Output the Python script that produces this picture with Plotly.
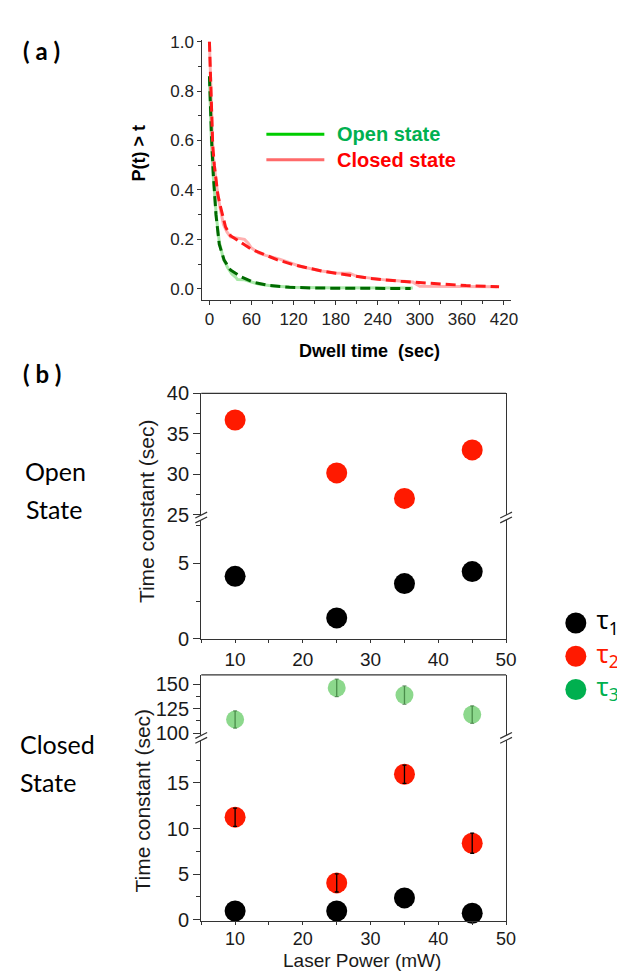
import plotly.graph_objects as go

W, H = 625, 973


def fx(px):
    return px / W


def fy(py):
    return 1 - py / H


# ---------------- Panel (a) data: survival curves ----------------
open_data_t = [0, 1, 2, 3, 5, 7, 10, 14, 20, 26, 32, 38, 40, 50, 56, 70, 90, 120, 160, 220, 290]
open_data_p = [0.85, 0.75, 0.66, 0.58, 0.47, 0.38, 0.29, 0.19, 0.12, 0.085, 0.06, 0.045, 0.037, 0.036, 0.03, 0.019, 0.011, 0.006, 0.004, 0.003, 0.003]
open_fit_t = [0, 1, 2, 3.3, 5.6, 9.3, 14, 21, 30, 44, 63, 86, 114, 150, 200, 287]
open_fit_p = [0.86, 0.76, 0.67, 0.59, 0.46, 0.30, 0.18, 0.116, 0.076, 0.05, 0.026, 0.013, 0.006, 0.003, 0.002, 0.001]

closed_data_t = [0, 2, 5, 10, 15, 20, 25, 30, 40, 50, 55, 60, 70, 80, 100, 130, 160, 180, 200, 210, 250, 290, 300, 350, 410]
closed_data_p = [1.0, 0.8, 0.55, 0.42, 0.33, 0.26, 0.23, 0.21, 0.205, 0.20, 0.185, 0.165, 0.145, 0.135, 0.12, 0.09, 0.072, 0.064, 0.063, 0.05, 0.036, 0.027, 0.01, 0.009, 0.008]
closed_fit_t = [0, 1, 2.3, 4.7, 7, 9.3, 12, 16, 20, 23, 30, 40, 49, 60, 72, 96, 120, 133, 160, 180, 226, 273, 320, 366, 413]
closed_fit_p = [1.0, 0.9, 0.8, 0.58, 0.50, 0.44, 0.38, 0.33, 0.28, 0.25, 0.215, 0.195, 0.18, 0.16, 0.145, 0.118, 0.097, 0.088, 0.072, 0.063, 0.043, 0.03, 0.02, 0.013, 0.008]

# ---------------- Panel (b) data: time constants ----------------
power = [10, 25, 35, 45]
open_tau1 = [4.14, 1.38, 3.66, 4.46]
open_tau2 = [36.7, 30.15, 27.0, 33.0]
closed_tau1 = [0.96, 0.96, 2.39, 0.71]
closed_tau2 = [11.25, 4.04, 15.96, 8.39]
closed_tau2_err = [1.0, 1.0, 1.0, 1.1]
closed_tau3 = [114, 146.3, 139, 119]
closed_tau3_err = [8.8, 9.0, 9.5, 9.0]

legend_labels = ["\u00a0τ<sub>1</sub>", "\u00a0τ<sub>2</sub>", "\u00a0τ<sub>3</sub>"]
legend_pos = [0, 1, 2]
legend_colors = ["#000000", "#ff1a00", "#00b04f"]

RED = "#ff1a00"
BLACK = "#000000"
LGREEN = "#8cd88c"
AX = "#333333"
TXT = "#1a1a1a"
ARIAL = "Liberation Sans, Arial, sans-serif"
CAL = "Lato, Noto Sans, sans-serif"

fig = go.Figure()

# Panel (a) traces
fig.add_trace(go.Scatter(x=open_data_t, y=open_data_p, xaxis="x", yaxis="y", mode="lines",
                         line=dict(color="#a8e8a8", width=3), showlegend=False))
fig.add_trace(go.Scatter(x=closed_data_t, y=closed_data_p, xaxis="x", yaxis="y", mode="lines",
                         line=dict(color="#ffb0b0", width=3), showlegend=False))
fig.add_trace(go.Scatter(x=open_fit_t, y=open_fit_p, xaxis="x", yaxis="y", mode="lines",
                         line=dict(color="#006b00", width=3, dash="10px,5px"), showlegend=False))
fig.add_trace(go.Scatter(x=closed_fit_t, y=closed_fit_p, xaxis="x", yaxis="y", mode="lines",
                         line=dict(color="#ff1a1a", width=3, dash="10px,5px"), showlegend=False))

# Panel (b) open state
fig.add_trace(go.Scatter(x=power, y=open_tau2, xaxis="x2", yaxis="y2", mode="markers",
                         marker=dict(color=RED, size=21), cliponaxis=False, showlegend=False))
fig.add_trace(go.Scatter(x=power, y=open_tau1, xaxis="x2", yaxis="y3", mode="markers",
                         marker=dict(color=BLACK, size=21), cliponaxis=False, showlegend=False))

# Panel (b) closed state: markers
fig.add_trace(go.Scatter(x=power, y=closed_tau3, xaxis="x3", yaxis="y4", mode="markers",
                         marker=dict(color=LGREEN, size=18), cliponaxis=False, showlegend=False))
fig.add_trace(go.Scatter(x=power, y=closed_tau2, xaxis="x3", yaxis="y5", mode="markers",
                         marker=dict(color=RED, size=21), cliponaxis=False, showlegend=False))
fig.add_trace(go.Scatter(x=power, y=closed_tau1, xaxis="x3", yaxis="y5", mode="markers",
                         marker=dict(color=BLACK, size=21), cliponaxis=False, showlegend=False))
# error bars drawn on top of markers
fig.add_trace(go.Scatter(x=power, y=closed_tau3, xaxis="x3", yaxis="y4", mode="markers",
                         marker=dict(color="rgba(0,0,0,0)", size=2),
                         error_y=dict(type="data", array=closed_tau3_err, color="rgba(20,80,20,0.55)",
                                      thickness=1.3, width=2),
                         cliponaxis=False, showlegend=False))
fig.add_trace(go.Scatter(x=power, y=closed_tau2, xaxis="x3", yaxis="y5", mode="markers",
                         marker=dict(color="rgba(0,0,0,0)", size=2),
                         error_y=dict(type="data", array=closed_tau2_err, color="#000000",
                                      thickness=1.3, width=2),
                         cliponaxis=False, showlegend=False))

# Legend for panel (b)
fig.add_trace(go.Scatter(x=[0, 0, 0], y=legend_pos, xaxis="x4", yaxis="y6", mode="markers+text",
                         marker=dict(color=legend_colors, size=21),
                         text=legend_labels, textposition="middle right",
                         textfont=dict(family="Noto Sans, sans-serif", size=25, color=legend_colors),
                         cliponaxis=False, showlegend=False))

common_ax = dict(showline=True, linecolor=AX, linewidth=1.3, showgrid=False, zeroline=False,
                 ticks="outside", tickcolor=AX, tickwidth=1.2)

b_tickfont = dict(family=ARIAL, size=20, color=TXT)
bx_tickfont = dict(family=ARIAL, size=19, color=TXT)
bx3_tickfont = dict(family=ARIAL, size=18, color=TXT)

fig.update_layout(
    width=W, height=H,
    margin=dict(l=0, r=0, t=0, b=0),
    paper_bgcolor="white", plot_bgcolor="rgba(0,0,0,0)",
    showlegend=False,
    xaxis=dict(domain=[fx(197.9), fx(512)], range=[-10, 430], anchor="y",
               tickvals=[0, 60, 120, 180, 240, 300, 360, 420], ticklen=4,
               minor=dict(dtick=30, tick0=0, ticks="outside", ticklen=3, tickcolor=AX),
               tickfont=dict(family=ARIAL, size=17, color="#222"), **common_ax),
    yaxis=dict(domain=[fy(287), fy(21.7)], range=[-0.0435, 1.006], anchor="x",
               tickvals=[0, 0.2, 0.4, 0.6, 0.8, 1.0], tickformat=".1f", ticklen=4,
               minor=dict(dtick=0.1, tick0=0, ticks="outside", ticklen=3, tickcolor=AX),
               tickfont=dict(family=ARIAL, size=17, color="#222"), **common_ax),
    xaxis2=dict(domain=[fx(196.7), fx(507)], range=[5, 50], anchor="y3",
                tickvals=[10, 20, 30, 40, 50], ticklen=3,
                minor=dict(dtick=5, tick0=0, ticks="outside", ticklen=3, tickcolor=AX),
                tickfont=bx_tickfont, **common_ax),
    yaxis2=dict(domain=[fy(507), fy(383)], range=[25, 40], anchor="x2", mirror=True,
                tickvals=[25, 30, 35, 40], ticklen=7,
                minor=dict(dtick=2.5, tick0=0, ticks="outside", ticklen=4, tickcolor=AX),
                tickfont=b_tickfont, **common_ax),
    yaxis3=dict(domain=[fy(634), fy(513)], range=[0, 7.86], anchor="x2", mirror=True,
                tickvals=[0, 5], ticklen=7,
                minor=dict(dtick=2.5, tick0=0, ticks="outside", ticklen=4, tickcolor=AX),
                tickfont=b_tickfont, **common_ax),
    xaxis3=dict(domain=[fx(196.7), fx(507)], range=[5, 50], anchor="y5",
                tickvals=[10, 20, 30, 40, 50], ticklen=2,
                minor=dict(dtick=5, tick0=0, ticks="outside", ticklen=3, tickcolor=AX),
                tickfont=bx3_tickfont, **common_ax),
    yaxis4=dict(domain=[fy(733), fy(671)], range=[97.7, 159.7], anchor="x3", mirror=True,
                tickvals=[100, 125, 150], ticklen=7,
                minor=dict(dtick=12.5, tick0=0, ticks="outside", ticklen=4, tickcolor=AX),
                tickfont=b_tickfont, **common_ax),
    yaxis5=dict(domain=[fy(922.5), fy(738)], range=[-0.1, 19.68], anchor="x3", mirror=True,
                tickvals=[0, 5, 10, 15], ticklen=7,
                minor=dict(dtick=2.5, tick0=0, ticks="outside", ticklen=4, tickcolor=AX),
                tickfont=b_tickfont, **common_ax),
    xaxis4=dict(domain=[fx(558), 1.0], range=[-1, 2.35], anchor="y6", visible=False),
    yaxis6=dict(domain=[fy(703), fy(601)], range=[2.5, -0.5], anchor="x4", visible=False),
)

shapes = []
# top frame lines of the broken-axis boxes
for xr, yr in (("x2 domain", "y2 domain"), ("x3 domain", "y4 domain")):
    shapes.append(dict(type="line", xref=xr, yref=yr, x0=0, x1=1, y0=1, y1=1,
                       line=dict(color=AX, width=1.3)))

# break marks (//) at the axis gaps
for yc in (510, 735.5):
    for xc in (196.7, 507):
        for off in (-2.5, 2.5):
            shapes.append(dict(type="line", xref="paper", yref="paper",
                               x0=fx(xc - 6), y0=fy(yc + 3 + off), x1=fx(xc + 6), y1=fy(yc - 3 + off),
                               line=dict(color=AX, width=1.2)))

# legend lines for panel (a)
shapes.append(dict(type="line", xref="paper", yref="paper", x0=fx(263), x1=fx(322), y0=fy(118), y1=fy(118),
                   line=dict(color="#00cc00", width=3)))
shapes.append(dict(type="line", xref="paper", yref="paper", x0=fx(263), x1=fx(322), y0=fy(144), y1=fy(144),
                   line=dict(color="#ff6a6a", width=3)))
fig.update_layout(shapes=shapes)

ann = []


def add_text(text, px, py, size, color="#000", family=ARIAL, xanchor="center", angle=0):
    ann.append(dict(text=text, x=fx(px), y=fy(py), xref="paper", yref="paper", showarrow=False,
                    xanchor=xanchor, yanchor="middle", textangle=angle,
                    font=dict(size=size, color=color, family=family)))


add_text("<b>( a )</b>", 34, 32, 24, family=CAL)
add_text("<b>( b )</b>", 35, 363, 24, family=CAL)
add_text("<b>P(t) &gt; t</b>", 133, 137, 18, angle=-90)
add_text("<b>Dwell time\u00a0 (sec)</b>", 368, 340, 18)
add_text("<b>Open state</b>", 333, 118, 20, color="#00b050", xanchor="left")
add_text("<b>Closed state</b>", 333, 144, 20, color="#ff0000", xanchor="left")
add_text("Time constant (sec)", 141, 504, 21, color=TXT, angle=-90)
add_text("Time constant (sec)", 137, 800, 21, color=TXT, angle=-90)
add_text("Laser Power (mW)", 360, 963, 19, color=TXT)
add_text("Open", 15, 462, 25, family=CAL, xanchor="left")
add_text("State", 16, 501, 25, family=CAL, xanchor="left")
add_text("Closed", 10, 742, 25, family=CAL, xanchor="left")
add_text("State", 10, 781, 25, family=CAL, xanchor="left")
fig.update_layout(annotations=ann)

fig.write_html("out.html")
